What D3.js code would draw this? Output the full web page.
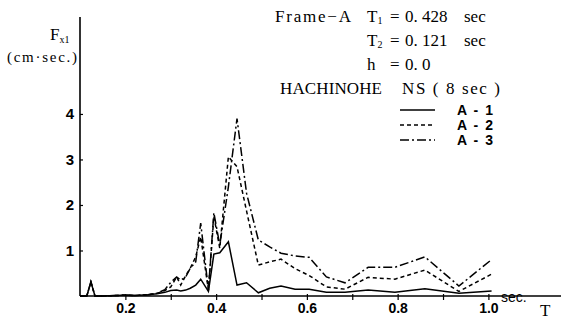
<!DOCTYPE html>
<html><head><meta charset="utf-8">
<script src="https://cdn.jsdelivr.net/npm/d3@7/dist/d3.min.js"></script>
<style>body{margin:0;background:#fff}svg{display:block}</style>
</head><body>
<svg id="c" width="561" height="320"></svg>
<script>
// Data
const periods = [0.10,0.115,0.124,0.133,0.15,0.18,0.20,0.22,0.25,0.27,0.287,0.30,0.313,0.322,0.333,0.343,0.355,0.366,0.383,0.395,0.408,0.427,0.446,0.467,0.493,0.518,0.543,0.574,0.605,0.643,0.684,0.735,0.794,0.86,0.935,1.007];
const a1 = [0,0,0.31,0,0,0.01,0.02,0.01,0.03,0.05,0.08,0.12,0.13,0.11,0.13,0.17,0.24,0.37,0.10,0.92,0.95,1.19,0.24,0.29,0.07,0.17,0.22,0.15,0.15,0.08,0.08,0.13,0.08,0.16,0.06,0.11];
const a2 = [0,0,0.31,0,0,0.01,0.02,0.01,0.03,0.06,0.12,0.20,0.42,0.24,0.45,0.61,0.86,1.30,0.13,1.75,1.05,3.06,2.84,1.87,0.68,0.75,0.81,0.60,0.45,0.20,0.15,0.41,0.37,0.57,0.10,0.48];
const a3 = [0,0,0.31,0,0,0.01,0.02,0.01,0.03,0.06,0.14,0.30,0.42,0.35,0.42,0.61,0.75,1.60,0.13,1.83,1.12,2.40,3.90,2.26,1.23,1.08,0.94,0.88,0.85,0.42,0.29,0.63,0.63,0.86,0.22,0.80];
const seriesNames = ["A - 1","A - 2","A - 3"];
const xTicks = [0.2,0.3,0.4,0.5,0.6,0.7,0.8,0.9,1.0];
const xTickLabels = ["0.2","0.4","0.6","0.8","1.0"];
const yTicks = [1,2,3,4];

const svg = d3.select("#c");
const x = d3.scaleLinear().domain([0.1, 1.16]).range([80, 561]);
const y = d3.scaleLinear().domain([0, 6.13]).range([296, 17]);
const dashes = [null, "4,3", "9,3,2,3"];
const all = [a1, a2, a3];
const sans = "Liberation Sans, Arial, sans-serif";
const serif = "Liberation Serif, Times New Roman, serif";

// axes
const xAxis = d3.axisBottom(x).tickValues(xTicks).tickSize(4).tickFormat(() => "");
const gx = svg.append("g").attr("transform","translate(0,296)").call(xAxis);
gx.select(".domain").attr("d","M80,0H561").attr("stroke","#000").attr("stroke-width",1.6);
gx.selectAll(".tick line").attr("y1",-2).attr("stroke-width",1.2);
gx.selectAll(".tick").filter(d => xTickLabels.includes(d.toFixed(1)))
  .append("text").attr("y",17).attr("fill","#000")
  .attr("font-family",sans).attr("font-weight","bold")
  .attr("font-size",14).attr("text-anchor","middle").text(d => d.toFixed(1));

const yAxis = d3.axisLeft(y).tickValues(yTicks).tickSize(3).tickFormat(d3.format("d"));
const gy = svg.append("g").attr("transform","translate(80,0)").call(yAxis);
gy.select(".domain").attr("d","M0,296V17").attr("stroke","#000").attr("stroke-width",1.6);
gy.selectAll(".tick line").attr("x2",3).attr("stroke-width",1.2);
gy.selectAll(".tick text").attr("x",-6).attr("fill","#000")
  .attr("font-family",sans).attr("font-weight","bold").attr("font-size",15);

// lines
const line = d3.line().x((d,i) => x(periods[i])).y(d => y(d));
all.forEach((s,k) => {
  svg.append("path").datum(s).attr("d", line).attr("fill","none").attr("stroke","#000")
    .attr("stroke-width",1.5).attr("stroke-dasharray", dashes[k]).attr("stroke-linejoin","miter");
});

// axis labels
const fl = svg.append("text").attr("font-family",serif).attr("font-size",17).attr("x",50).attr("y",40);
fl.append("tspan").text("F");
fl.append("tspan").attr("font-size",10).attr("dy",3).text("x1");
svg.append("text").attr("font-family",serif).attr("font-size",15).attr("x",7).attr("y",62)
  .attr("textLength",70).attr("lengthAdjust","spacing").text("(cm·sec.)");
svg.append("text").attr("font-family",sans).attr("font-size",14)
  .attr("x",501).attr("y",302).text("sec.");
svg.append("text").attr("font-family",serif).attr("font-size",17).attr("x",540).attr("y",316).text("T");

// annotation
function txt(s, xx, yy, len, size) {
  const t = svg.append("text").attr("font-family",serif).attr("font-size",size||17).attr("x",xx).attr("y",yy).text(s);
  if (len) t.attr("textLength",len).attr("lengthAdjust","spacing");
  return t;
}
txt("Frame\u2212A", 275, 22, 76);
function tline(sym, sub, val, yy) {
  const t = svg.append("text").attr("font-family",serif).attr("font-size",17).attr("x",367).attr("y",yy);
  t.append("tspan").text(sym);
  if (sub) t.append("tspan").attr("font-size",10).attr("dy",2).text(sub);
  txt("=", 390, yy);
  txt(val, 405, yy);
}
tline("T","1","0. 428", 22);
txt("sec", 464, 22);
tline("T","2","0. 121", 46);
txt("sec", 464, 46);
tline("h",null,"0. 0", 70);
txt("HACHINOHE", 280, 94, 102);
txt("NS ( 8 sec )", 402, 94, 98);

// legend
const legY = [110,125,140];
seriesNames.forEach((n,k) => {
  svg.append("line").attr("x1",400).attr("x2",435).attr("y1",legY[k]).attr("y2",legY[k])
    .attr("stroke","#000").attr("stroke-width",1.4).attr("stroke-dasharray",dashes[k]);
  svg.append("text").attr("x",457).attr("y",legY[k]+5).attr("font-family",sans)
    .attr("font-weight","bold").attr("font-size",14).attr("textLength",36).attr("lengthAdjust","spacing").text(n);
});
</script>
</body></html>
